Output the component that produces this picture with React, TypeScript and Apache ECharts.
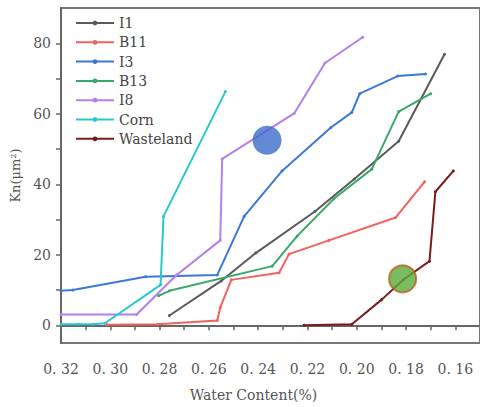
import React, { useEffect, useRef } from "react";
import * as echarts from "echarts";

// Water content (%) vs Kn (μm²) for each soil sample
const I1: [number, number][] = [
  [0.276, 2.8], [0.255, 12.6], [0.241, 20.5], [0.217, 32.3],
  [0.201, 41.5], [0.183, 52.2], [0.1644, 76.9],
];
const B11: [number, number][] = [
  [0.3014, 0.2], [0.2808, 0.3], [0.2566, 1.4], [0.2554, 5.0],
  [0.2509, 12.9], [0.2315, 14.9], [0.2275, 20.2], [0.2113, 24.1],
  [0.1842, 30.6], [0.1725, 40.7],
];
const I3: [number, number][] = [
  [0.32, 9.8], [0.3152, 10.0], [0.2857, 13.8], [0.2566, 14.3],
  [0.2457, 30.9], [0.2303, 43.8], [0.2105, 56.1], [0.202, 60.4],
  [0.1988, 65.7], [0.1834, 70.7], [0.1721, 71.3],
];
const B13: [number, number][] = [
  [0.2804, 8.4], [0.276, 9.8], [0.2343, 16.8], [0.2242, 25.3],
  [0.2093, 35.9], [0.1939, 44.3], [0.183, 60.6], [0.170, 65.7],
];
const I8: [number, number][] = [
  [0.32, 3.1], [0.2893, 3.1], [0.2731, 14.3], [0.2554, 24.1],
  [0.2546, 47.2], [0.2254, 60.1], [0.2129, 74.4], [0.1976, 81.7],
];
const CORN: [number, number][] = [
  [0.32, 0.3], [0.313, 0.3], [0.307, 0.3], [0.3022, 0.6],
  [0.2796, 11.5], [0.2784, 30.9], [0.2533, 66.3],
];
const WASTELAND: [number, number][] = [
  [0.2214, 0.0], [0.202, 0.3], [0.1899, 7.3], [0.181, 13.0],
  [0.1705, 18.2], [0.1681, 37.9], [0.1608, 43.8],
];

// Highlight markers
const BLUE_MARK: [number, number][] = [[0.2364, 52.5]];
const GREEN_MARK: [number, number][] = [[0.1814, 13.2]];

const SERIES_NAMES = ["I1", "B11", "I3", "B13", "I8", "Corn", "Wasteland"];
const SERIES_DATA = [I1, B11, I3, B13, I8, CORN, WASTELAND];
const SERIES_COLORS = [
  "#5a5a5a", "#f2625e", "#3b78d8", "#3aa86a", "#b67ee8", "#27c9cc", "#7b1c1c",
];

const X_TICKS = [0.16, 0.17, 0.18, 0.19, 0.2, 0.21, 0.22, 0.23, 0.24, 0.25, 0.26, 0.27, 0.28, 0.29, 0.3, 0.31, 0.32];
const X_LABELS = [0.16, 0.18, 0.2, 0.22, 0.24, 0.26, 0.28, 0.3, 0.32];
const Y_TICKS = [0, 10, 20, 30, 40, 50, 60, 70, 80];
const Y_LABELS = [0, 20, 40, 60, 80];

const FONT = "'DejaVu Serif', serif";

export default function App() {
  const ref = useRef<HTMLDivElement>(null);

  useEffect(() => {
    if (!ref.current) return;
    const chart = echarts.init(ref.current, null, { renderer: "svg" });

    const lines = SERIES_NAMES.map((name, i) => ({
      name,
      type: "line",
      data: SERIES_DATA[i],
      color: SERIES_COLORS[i],
      symbol: "circle",
      symbolSize: 3,
      lineStyle: { width: 2, color: SERIES_COLORS[i] },
      itemStyle: { color: SERIES_COLORS[i] },
      z: 2,
    }));

    chart.setOption({
      animation: false,
      backgroundColor: "#ffffff",
      grid: {
        left: 61,
        right: 0,
        top: 8,
        bottom: 62,
        show: true,
        borderColor: "#777777",
        borderWidth: 2,
      },
      legend: {
        data: SERIES_NAMES,
        orient: "vertical",
        left: 70,
        top: 11,
        itemWidth: 38,
        itemHeight: 6,
        itemGap: 5.3,
        textStyle: {
          fontFamily: FONT,
          fontSize: 14,
          lineHeight: 14,
          color: "#444444",
        },
      },
      xAxis: {
        type: "value",
        inverse: true,
        min: 0.15,
        max: 0.32,
        name: "Water Content(%)",
        nameLocation: "middle",
        nameGap: 45,
        nameTextStyle: {
          fontFamily: FONT,
          fontSize: 14,
          color: "#555555",
          padding: [0, 34, 0, 0],
        },
        axisLine: { show: true, lineStyle: { color: "#666666", width: 2 } },
        axisTick: {
          show: true,
          length: 5,
          customValues: X_TICKS,
          lineStyle: { color: "#666666", width: 1.5 },
        },
        axisLabel: {
          customValues: X_LABELS,
          margin: 19,
          fontFamily: FONT,
          fontSize: 14,
          color: "#555555",
          formatter: (v: number) => v.toFixed(2).replace(".", ". "),
        },
        splitLine: { show: false },
      },
      yAxis: {
        type: "value",
        min: -5,
        max: 90,
        name: "Kn(μm²)",
        nameLocation: "middle",
        nameGap: 37,
        nameTextStyle: { fontFamily: FONT, fontSize: 13, color: "#555555" },
        axisLine: { show: true, lineStyle: { color: "#666666", width: 2 } },
        axisTick: {
          show: true,
          length: 5,
          customValues: Y_TICKS,
          lineStyle: { color: "#666666", width: 1.5 },
        },
        axisLabel: {
          customValues: Y_LABELS,
          margin: 10,
          fontFamily: FONT,
          fontSize: 14,
          color: "#555555",
        },
        splitLine: { show: false },
      },
      series: [
        ...lines,
        {
          name: "blueMark",
          type: "scatter",
          data: BLUE_MARK,
          symbol: "circle",
          symbolSize: 29,
          itemStyle: { color: "#3d6cc9" },
          z: 5,
        },
        {
          name: "greenMark",
          type: "scatter",
          data: GREEN_MARK,
          symbol: "circle",
          symbolSize: 27,
          itemStyle: { color: "#5aab3c", borderColor: "#b8601e", borderWidth: 2 },
          z: 5,
        },
      ],
    });

    return () => chart.dispose();
  }, []);

  return (
    <div
      ref={ref}
      style={{ position: "fixed", left: 0, top: 0, width: 480, height: 407 }}
    />
  );
}
